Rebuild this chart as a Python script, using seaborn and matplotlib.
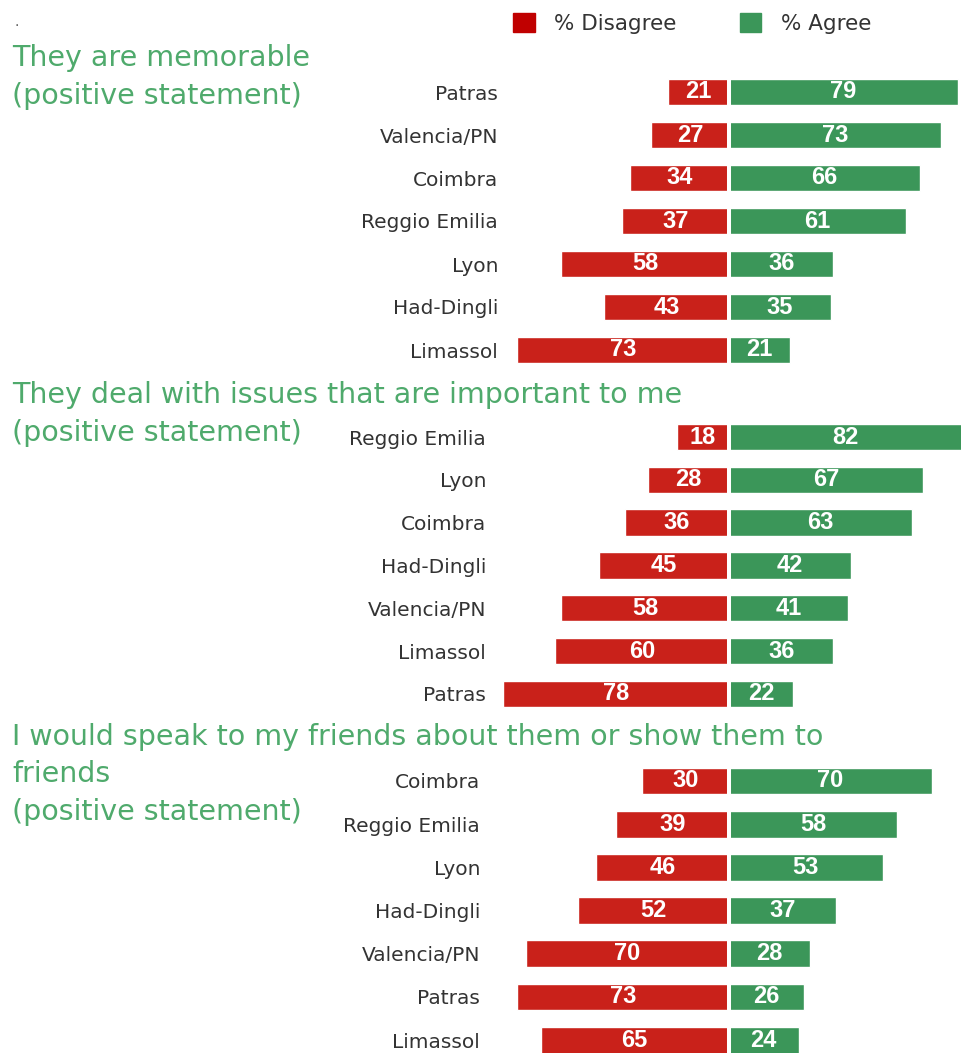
import matplotlib
matplotlib.use("Agg")
import matplotlib.pyplot as plt
from matplotlib.patches import Patch
import pandas as pd
import seaborn as sns

# ---- data -----------------------------------------------------------------
titles = [
    ["They are memorable", "(positive statement)"],
    ["They deal with issues that are important to me", "(positive statement)"],
    ["I would speak to my friends about them or show them to", "friends",
     "(positive statement)"],
]

cities_1 = ["Patras", "Valencia/PN", "Coimbra", "Reggio Emilia", "Lyon", "Had-Dingli", "Limassol"]
disagree_1 = [21, 27, 34, 37, 58, 43, 73]
agree_1 = [79, 73, 66, 61, 36, 35, 21]

cities_2 = ["Reggio Emilia", "Lyon", "Coimbra", "Had-Dingli", "Valencia/PN", "Limassol", "Patras"]
disagree_2 = [18, 28, 36, 45, 58, 60, 78]
agree_2 = [82, 67, 63, 42, 41, 36, 22]

cities_3 = ["Coimbra", "Reggio Emilia", "Lyon", "Had-Dingli", "Valencia/PN", "Patras", "Limassol"]
disagree_3 = [30, 39, 46, 52, 70, 73, 65]
agree_3 = [70, 58, 53, 37, 28, 26, 24]

legend_labels = ["% Disagree", "% Agree"]

# ---- style ----------------------------------------------------------------
RED = "#C9211A"
LEGEND_RED = "#C00000"
GREEN = "#3B9659"
TITLE_GREEN = "#4FAA6C"
TEXT_GREY = "#333333"

sns.set_theme(style="white")
plt.rcParams["font.family"] = ["DejaVu Sans"]

W, H, DPI = 961, 1053, 100
fig = plt.figure(figsize=(W / DPI, H / DPI), dpi=DPI)

PX_PER_UNIT = 2.9   # horizontal scale of the bars
ZERO_PX = 729       # where the diverging axis sits

# (first row centre, row pitch, right edge of city labels) in px
layout = [
    (92, 43.0, 498),
    (437, 42.8, 486),
    (781, 43.2, 480),
]
# baseline of each title line, px from the top
title_baselines = [
    [66, 104],
    [403, 441],
    [745, 782, 820],
]

panels = [
    (cities_1, disagree_1, agree_1),
    (cities_2, disagree_2, agree_2),
    (cities_3, disagree_3, agree_3),
]

for (cities, dis, agr), (c0, pitch, lab_right), lines, bases in zip(
        panels, layout, titles, title_baselines):
    n = len(cities)
    top = c0 - pitch / 2
    left = lab_right + 6
    ax = fig.add_axes([left / W, 1 - (top + n * pitch) / H, (W - left) / W, n * pitch / H])

    df = pd.DataFrame({"city": cities,
                       "disagree": [-v for v in dis],
                       "agree": agr})
    sns.barplot(data=df, x="disagree", y="city", color=RED, saturation=1,
                width=0.62, orient="h", ax=ax)
    sns.barplot(data=df, x="agree", y="city", color=GREEN, saturation=1,
                width=0.62, orient="h", ax=ax)

    for cont, vals in zip(ax.containers, (dis, agr)):
        ax.bar_label(cont, labels=[str(v) for v in vals], label_type="center",
                     color="white", fontsize=17, fontweight="bold",
                     family="Liberation Sans")

    # thin white gap between the two halves
    ax.axvline(0, color="white", lw=2.9, zorder=5)

    ax.set_xlim((left - ZERO_PX) / PX_PER_UNIT, (W - ZERO_PX) / PX_PER_UNIT)
    ax.set_ylim(n - 0.5, -0.5)
    ax.set_xticks([])
    ax.set_xlabel("")
    ax.set_ylabel("")
    ax.tick_params(axis="y", length=0, pad=4.3, labelsize=14.5, labelcolor=TEXT_GREY)
    sns.despine(ax=ax, left=True, bottom=True)
    ax.patch.set_alpha(0)

    for line, base in zip(lines, bases):
        fig.text(12 / W, 1 - base / H, line, ha="left", va="baseline",
                 fontsize=20.5, color=TITLE_GREEN)

fig.legend(handles=[Patch(color=LEGEND_RED, label=legend_labels[0]),
                    Patch(color=GREEN, label=legend_labels[1])],
           loc="upper left", bbox_to_anchor=(513 / W, 1 - 13 / H), ncol=2,
           frameon=False, fontsize=15.5, handlelength=1.0, handleheight=1.0,
           handletextpad=0.9, columnspacing=2.95, borderpad=0, borderaxespad=0,
           labelcolor=TEXT_GREY)

fig.text(14 / W, 1 - 26 / H, ".", fontsize=10, color="#555555")

fig.savefig("out.png", dpi=DPI)
